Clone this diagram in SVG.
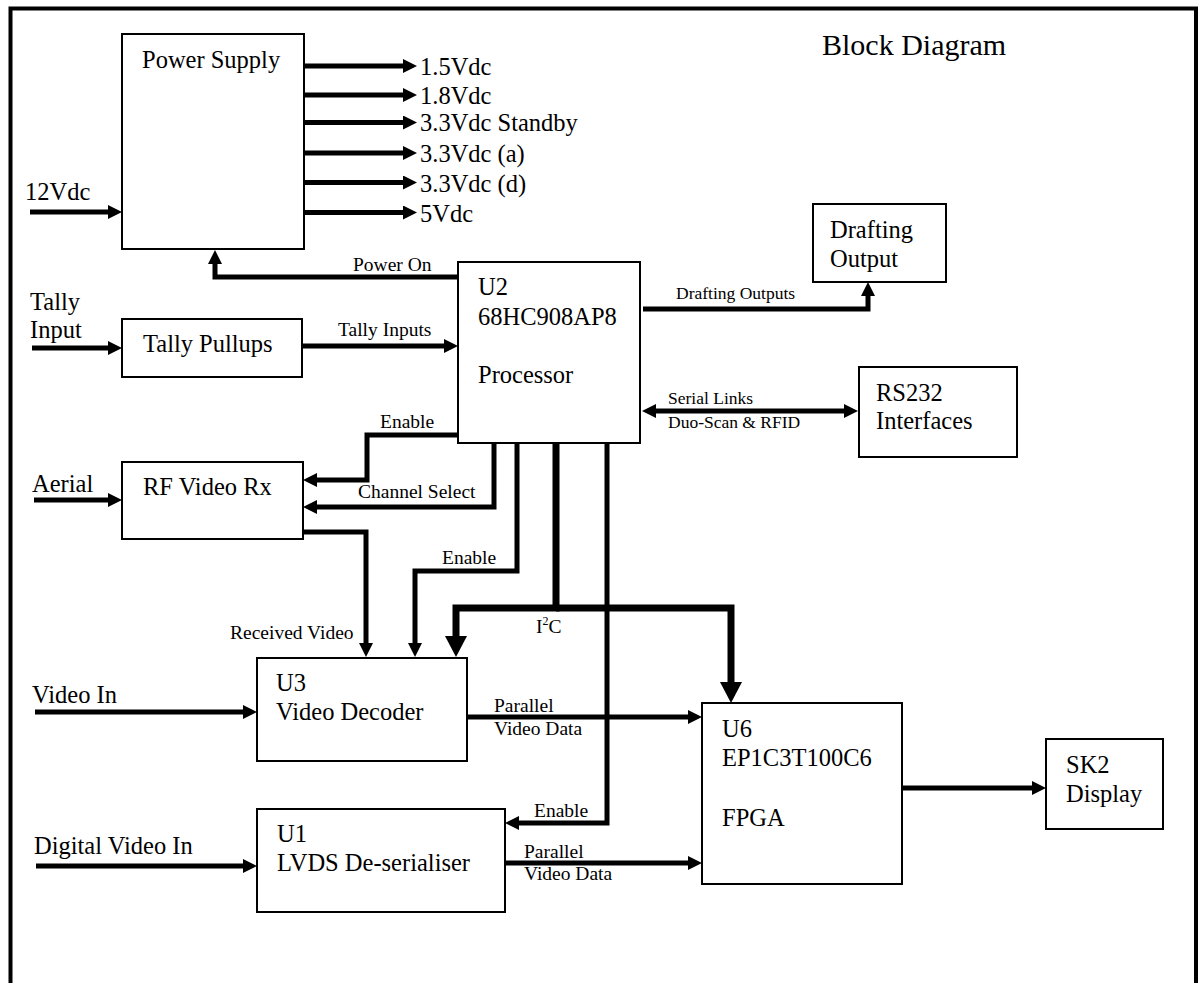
<svg xmlns="http://www.w3.org/2000/svg" width="1201" height="983" viewBox="0 0 1201 983">
<style>
text{font-family:"Liberation Serif","Times New Roman",serif;fill:#000}
.t{font-size:24.5px}
.l{font-size:19.5px}
.s{font-size:17.5px}
.title{font-size:30px}
.box{fill:#fff;stroke:#000;stroke-width:2}
.c{fill:none;stroke:#000;stroke-width:5;stroke-linejoin:miter}
.bus{fill:none;stroke:#000;stroke-width:7;stroke-linejoin:miter}
</style>
<defs>
<marker id="ah" markerUnits="userSpaceOnUse" markerWidth="14" markerHeight="14" refX="1" refY="7" viewBox="0 0 14 14" orient="auto"><path d="M0,0 L14,7 L0,14 z" fill="#000"/></marker>
<marker id="ah2" markerUnits="userSpaceOnUse" markerWidth="14" markerHeight="14" refX="1" refY="7" viewBox="0 0 14 14" orient="auto-start-reverse"><path d="M0,0 L14,7 L0,14 z" fill="#000"/></marker>
<marker id="ahb" markerUnits="userSpaceOnUse" markerWidth="22" markerHeight="22" refX="1" refY="11" viewBox="0 0 22 22" orient="auto"><path d="M0,0 L21,11 L0,22 z" fill="#000"/></marker>
</defs>
<rect width="1201" height="983" fill="#fff"/>
<path d="M10.5,990 V8.5 H1196 V990" fill="none" stroke="#000" stroke-width="4"/>
<text class="title" x="822" y="55">Block Diagram</text>

<g id="connectors">
<path class="c" d="M304,66 H404" marker-end="url(#ah)"/>
<path class="c" d="M304,95 H404" marker-end="url(#ah)"/>
<path class="c" d="M304,122.5 H404" marker-end="url(#ah)"/>
<path class="c" d="M304,153 H404" marker-end="url(#ah)"/>
<path class="c" d="M304,182.5 H404" marker-end="url(#ah)"/>
<path class="c" d="M304,212.5 H404" marker-end="url(#ah)"/>
<path class="c" d="M30,212 H109" marker-end="url(#ah)"/>
<path class="c" d="M458,277 H215 V263" marker-end="url(#ah)"/>
<path class="c" d="M32,348 H109" marker-end="url(#ah)"/>
<path class="c" d="M302,346 H445" marker-end="url(#ah)"/>
<path class="c" d="M458,435 H367 V480 H316" marker-end="url(#ah)"/>
<path class="c" d="M34,500 H109" marker-end="url(#ah)"/>
<path class="c" d="M494,443 V507 H316" marker-end="url(#ah)"/>
<path class="c" d="M303,532 H366 V644" marker-end="url(#ah)"/>
<path class="c" d="M517,443 V571 H415 V644" marker-end="url(#ah)"/>
<path class="bus" d="M556,443 V608 H456 V637" marker-end="url(#ahb)"/>
<path class="bus" d="M556,608 H731 V683" marker-end="url(#ahb)"/>
<path class="c" d="M607,443 V823 H518" marker-end="url(#ah)"/>
<path class="c" d="M35,712 H244" marker-end="url(#ah)"/>
<path class="c" d="M467,717 H689" marker-end="url(#ah)"/>
<path class="c" d="M36,866 H244" marker-end="url(#ah)"/>
<path class="c" d="M505,863 H689" marker-end="url(#ah)"/>
<path class="c" d="M902,788 H1033" marker-end="url(#ah)"/>
<path class="c" d="M643,309 H868 V295" marker-end="url(#ah)"/>
<path class="c" d="M655,411 H845" marker-start="url(#ah2)" marker-end="url(#ah2)"/>
</g>

<g id="connector-labels">
<text class="t" x="420" y="75">1.5Vdc</text>
<text class="t" x="420" y="104">1.8Vdc</text>
<text class="t" x="420" y="131">3.3Vdc Standby</text>
<text class="t" x="420" y="162">3.3Vdc (a)</text>
<text class="t" x="420" y="192">3.3Vdc (d)</text>
<text class="t" x="420" y="222">5Vdc</text>
<text class="t" x="25" y="200">12Vdc</text>
<text class="l" x="353" y="271">Power On</text>
<text class="t" x="30" y="310">Tally</text>
<text class="t" x="30" y="338">Input</text>
<text class="l" x="338" y="336">Tally Inputs</text>
<text class="l" x="380" y="428">Enable</text>
<text class="t" x="32" y="492">Aerial</text>
<text class="l" x="358" y="498">Channel Select</text>
<text class="l" x="230" y="639">Received Video</text>
<text class="l" x="442" y="564">Enable</text>
<text class="l" x="536" y="633">I<tspan font-size="12" dy="-8">2</tspan><tspan dy="8">C</tspan></text>
<text class="l" x="534" y="817">Enable</text>
<text class="t" x="32" y="703">Video In</text>
<text class="l" x="494" y="712">Parallel</text>
<text class="l" x="494" y="735">Video Data</text>
<text class="t" x="34" y="854">Digital Video In</text>
<text class="l" x="524" y="858">Parallel</text>
<text class="l" x="524" y="880">Video Data</text>
<text class="s" x="676" y="299">Drafting Outputs</text>
<text class="s" x="668" y="404">Serial Links</text>
<text class="s" x="668" y="428">Duo-Scan &amp; RFID</text>
</g>

<g id="power-supply">
<rect class="box" x="122" y="34" width="182" height="215"/>
<text class="t" x="142" y="68">Power Supply</text>
</g>
<g id="u2-processor">
<rect class="box" x="458" y="262" width="182" height="181"/>
<text class="t" x="478" y="295">U2</text>
<text class="t" x="478" y="325">68HC908AP8</text>
<text class="t" x="478" y="383">Processor</text>
</g>
<g id="tally-pullups">
<rect class="box" x="122" y="319" width="180" height="58"/>
<text class="t" x="143" y="352">Tally Pullups</text>
</g>
<g id="rf-video-rx">
<rect class="box" x="122" y="462" width="181" height="77"/>
<text class="t" x="143" y="495">RF Video Rx</text>
</g>
<g id="u3-video-decoder">
<rect class="box" x="257" y="658" width="210" height="103"/>
<text class="t" x="276" y="691">U3</text>
<text class="t" x="276" y="720">Video Decoder</text>
</g>
<g id="u1-lvds">
<rect class="box" x="257" y="809" width="248" height="103"/>
<text class="t" x="277" y="842">U1</text>
<text class="t" x="277" y="871">LVDS De-serialiser</text>
</g>
<g id="u6-fpga">
<rect class="box" x="702" y="703" width="200" height="181"/>
<text class="t" x="722" y="737">U6</text>
<text class="t" x="722" y="766">EP1C3T100C6</text>
<text class="t" x="722" y="826">FPGA</text>
</g>
<g id="sk2-display">
<rect class="box" x="1046" y="739" width="117" height="90"/>
<text class="t" x="1066" y="773">SK2</text>
<text class="t" x="1066" y="802">Display</text>
</g>
<g id="drafting-output">
<rect class="box" x="813" y="204" width="133" height="78"/>
<text class="t" x="830" y="238">Drafting</text>
<text class="t" x="830" y="267">Output</text>
</g>
<g id="rs232">
<rect class="box" x="859" y="367" width="158" height="90"/>
<text class="t" x="876" y="401">RS232</text>
<text class="t" x="876" y="429">Interfaces</text>
</g>
</svg>
